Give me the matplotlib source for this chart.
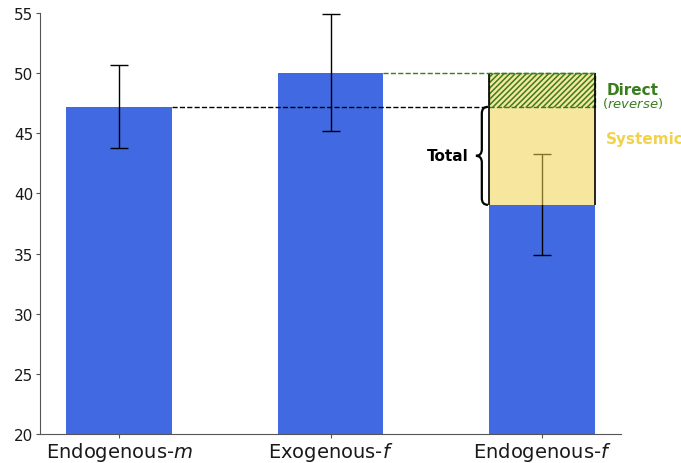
"""
Bar chart of endogenous vs exogenous effects with decomposition of the last bar.
"""

import matplotlib
matplotlib.use("Agg")
import matplotlib.pyplot as plt
from matplotlib.path import Path
from matplotlib.patches import PathPatch

# Data
CATEGORIES = ['Endogenous-$m$', 'Exogenous-$f$', 'Endogenous-$f$']
MEANS = [47.2, 50.05, 39.05]
ERRORS = [3.45, 4.88, 4.2]

# Decomposition of the last bar
SYSTEMIC_LOW = 39.05
SYSTEMIC_HIGH = 47.2
DIRECT_HIGH = 50.05

BLUE = 'royalblue'
YELLOW = (0.945, 0.824, 0.31, 0.55)
GREEN = '#3a7d1e'
GOLD = '#f2d24b'
WIDTH = 0.5

plt.rcParams['hatch.linewidth'] = 1.1

fig = plt.figure(figsize=(6.81, 4.64), dpi=100)
ax = fig.add_axes([0.0587, 0.0625, 0.8533, 0.9073])

x = list(range(len(CATEGORIES)))
ax.bar(x, MEANS, width=WIDTH, color=BLUE, zorder=1)
ax.errorbar(x, MEANS, yerr=ERRORS, fmt='none', ecolor='black',
            elinewidth=1, capsize=6.5, capthick=1, zorder=2)

# systemic + direct block on top of the last bar
last = x[-1]
ax.bar(last, DIRECT_HIGH - SYSTEMIC_LOW, bottom=SYSTEMIC_LOW, width=WIDTH,
       color=YELLOW, linewidth=0, zorder=3)
ax.bar(last, DIRECT_HIGH - SYSTEMIC_HIGH, bottom=SYSTEMIC_HIGH, width=WIDTH,
       facecolor='none', edgecolor=GREEN, hatch='//////', linewidth=1,
       linestyle='--', zorder=4)
ax.vlines([last - WIDTH / 2, last + WIDTH / 2], SYSTEMIC_LOW, DIRECT_HIGH,
          color='black', linewidth=1.2, zorder=5)

# reference lines
ax.hlines(MEANS[0], x[0] + WIDTH / 2, last - WIDTH / 2, color='black',
          linestyle='--', linewidth=1, zorder=5)
ax.hlines(MEANS[1], x[1] + WIDTH / 2, last + WIDTH / 2, color=GREEN,
          linestyle='--', linewidth=1, zorder=5)

# curly brace for the total effect
xr, xm, xt = 1.745, 1.716, 1.688
y0, y1 = SYSTEMIC_LOW, SYSTEMIC_HIGH
ym = (y0 + y1) / 2
d = 0.55
verts = [
    (xr, y1), (xm, y1), (xm, y1 - d),
    (xm, ym + d),
    (xm, ym), (xt, ym),
    (xm, ym), (xm, ym - d),
    (xm, y0 + d),
    (xm, y0), (xr, y0),
]
codes = [Path.MOVETO, Path.CURVE3, Path.CURVE3,
         Path.LINETO,
         Path.CURVE3, Path.CURVE3,
         Path.CURVE3, Path.CURVE3,
         Path.LINETO,
         Path.CURVE3, Path.CURVE3]
ax.add_patch(PathPatch(Path(verts, codes), facecolor='none',
                       edgecolor='black', linewidth=1.6, zorder=5))

ax.text(1.655, ym, 'Total', ha='right', va='center', fontsize=11,
        fontweight='bold', color='black')
ax.text(2.43, 48.68, 'Direct', ha='center', va='center', fontsize=11,
        fontweight='bold', color=GREEN)
ax.text(2.43, 47.55, r'($\mathit{reverse}$)', ha='center', va='center',
        fontsize=9.5, color=GREEN)
ax.text(2.303, 44.6, 'Systemic', ha='left', va='center', fontsize=11,
        fontweight='bold', color=GOLD)

ax.set_ylim(20, 55)
ax.set_xlim(-0.375, 2.375)
ax.set_xticks(x)
ax.set_xticklabels(CATEGORIES, fontsize=14, color='#1a1a1a')
ax.tick_params(axis='y', labelsize=11, colors='#1a1a1a', length=3, pad=2)
ax.tick_params(axis='x', length=3, pad=1)
ax.tick_params(axis='both', color='#555555')
for side in ['top', 'right']:
    ax.spines[side].set_visible(False)
for side in ['left', 'bottom']:
    ax.spines[side].set_color('#555555')

fig.savefig('out.png', dpi=100)
